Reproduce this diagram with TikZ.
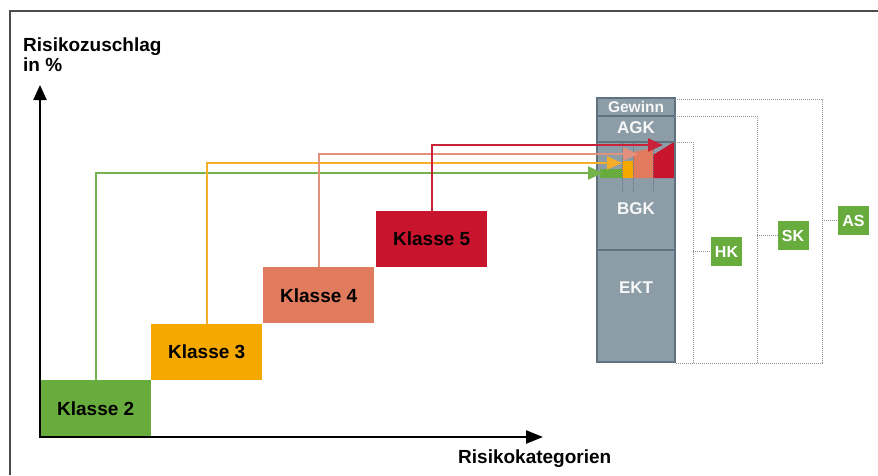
\documentclass[tikz,border=0pt]{standalone}
\usepackage{fontspec}
\setmainfont{Liberation Sans}
\usetikzlibrary{arrows.meta}
\definecolor{kgreen}{HTML}{68AC3E}
\definecolor{korange}{HTML}{F5A800}
\definecolor{ksalmon}{HTML}{E07B5E}
\definecolor{kred}{HTML}{C8142C}
\definecolor{colgray}{HTML}{8C9DA8}
\definecolor{coledge}{HTML}{5E7282}
\definecolor{lgreen}{HTML}{74B349}
\definecolor{lorange}{HTML}{F6AE2A}
\definecolor{lsalmon}{HTML}{E3907C}
\definecolor{lred}{HTML}{C92238}
\begin{document}
\begin{tikzpicture}[x=1pt,y=-1pt,
 klasse/.style={rectangle, minimum width=111pt, minimum height=56pt, anchor=north west, inner sep=0pt, font=\bfseries\fontsize{19}{21}\selectfont},
 tag/.style={rectangle, fill=kgreen, text=white, minimum width=31pt, minimum height=29pt, inner sep=0pt, font=\bfseries\fontsize{16}{17}\selectfont},
 coltext/.style={text=white!94!gray, font=\bfseries\fontsize{17}{18}\selectfont, inner sep=0pt},
 lab/.style={anchor=base west, inner sep=0pt, font=\bfseries\fontsize{19}{21}\selectfont},
 riser/.style={line width=2pt, -{Triangle[length=15pt,width=13pt]}},
 dots/.style={draw=gray!85, line width=1pt, dash pattern=on 1pt off 1pt},
 axis/.style={line width=2.4pt},
]
\useasboundingbox (0,0) rectangle (878,475);
% frame
\draw[line width=1.5pt, black!70] (10,475) -- (10,11) -- (878,11);

% labels
\node[lab] (ylab1) at (23,51.5) {Risikozuschlag};
\node[lab] (ylab2) at (23,71.7) {in \%};
\node[lab] (xlab) at (458,463) {Risikokategorien};

% class boxes
\node[klasse, fill=kgreen] (k2) at (40,380) {Klasse 2};
\node[klasse, fill=korange] (k3) at (151,324) {Klasse 3};
\node[klasse, fill=ksalmon] (k4) at (263,267) {Klasse 4};
\node[klasse, fill=kred] (k5) at (376,211) {Klasse 5};

% axes
\coordinate (origin) at (40,437);
\coordinate (ytip) at (40,85);
\coordinate (xtip) at (543,437);
\draw[axis, {Triangle[length=15pt,width=13pt]}-{Triangle[length=17pt,width=13pt]}] (ytip) -- (origin) -- (xtip);

% column
\fill[colgray] (597,98) rectangle (675,362);
\fill[kgreen] (600,169) rectangle (622,178);
\fill[korange] (622,161) rectangle (633,178);
\fill[ksalmon] (633,152) -- (653,148) -- (653,178) -- (633,178) -- cycle;
\fill[kred] (653,155) -- (674,142) -- (674,178) -- (653,178) -- cycle;
\draw[coledge, line width=1pt, dash pattern=on 1pt off 1pt] (622,143) -- (622,192) (633,143) -- (633,192) (653,143) -- (653,192);
\draw[coledge, line width=1.3pt] (597,98) rectangle (675,362);
\draw[coledge, line width=1.3pt] (597,116) -- (675,116) (597,142) -- (675,142) (597,250) -- (675,250);
\node[coltext, font=\bfseries\fontsize{15.5}{16}\selectfont] (tg) at (636,107) {Gewinn};
\node[coltext] (ta) at (636,128) {AGK};
\node[coltext] (tb) at (636,209) {BGK};
\node[coltext] (te) at (636,287.5) {EKT};

% risers
\coordinate (gt) at (603,173);
\coordinate (ot) at (622,163);
\coordinate (st) at (638,154);
\coordinate (rt) at (663,145);
\draw[riser, draw=lgreen] (k2.north) |- (gt);
\draw[riser, draw=lorange] (k3.north) |- (ot);
\draw[riser, draw=lsalmon] (k4.north) |- (st);
\draw[riser, draw=lred] (k5.north) |- (rt);

% tags
\node[tag] (hk) at (726.5,251.5) {HK};
\node[tag] (sk) at (793,235.5) {SK};
\node[tag] (as) at (853.5,220.5) {AS};

% dotted connectors
\coordinate (c1) at (675,99);
\coordinate (c2) at (675,116);
\coordinate (c3) at (675,142);
\coordinate (b1) at (822,363);
\coordinate (b2) at (757,363);
\coordinate (b3) at (693,363);
\coordinate (bl) at (675,363);
\draw[dots] (c1) -| (b1) -- (bl);
\draw[dots] (c2) -| (b2);
\draw[dots] (c3) -| (b3);
\draw[dots] (hk.west -| b3) -- (hk.west);
\draw[dots] (sk.west -| b2) -- (sk.west);
\draw[dots] (as.west -| b1) -- (as.west);
\end{tikzpicture}
\end{document}
